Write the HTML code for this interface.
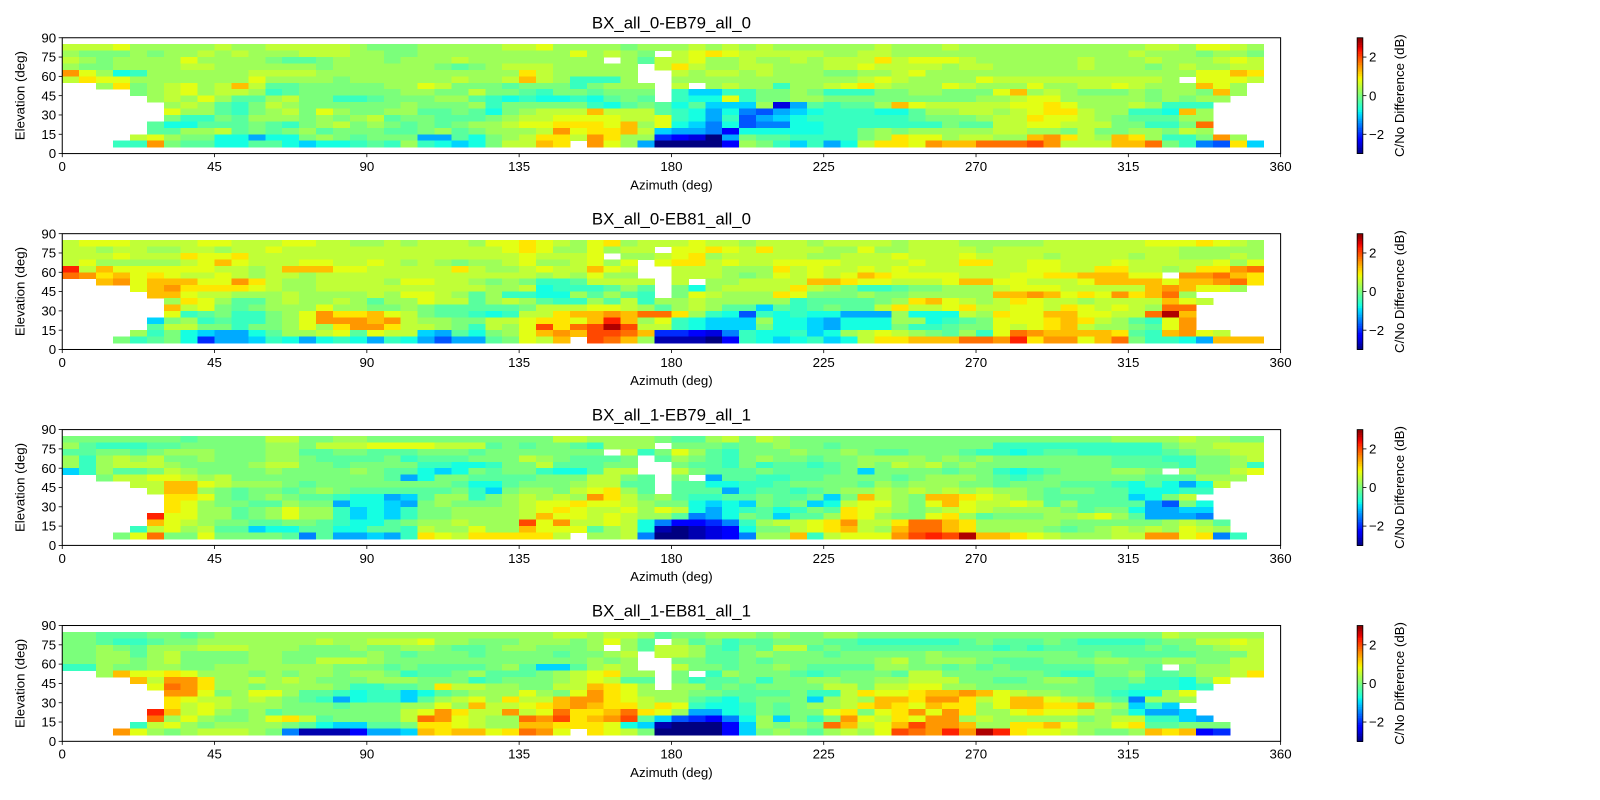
<!DOCTYPE html>
<html><head><meta charset="utf-8"><style>
html,body{margin:0;padding:0;background:#fff;}
svg{display:block;font-family:"Liberation Sans","DejaVu Sans",sans-serif;}
</style></head><body>
<svg id="fig" width="1600" height="800" viewBox="0 0 1568 784" preserveAspectRatio="none" xmlns="http://www.w3.org/2000/svg"></svg>
<script>
// ---- data: per panel, 16 rows (elevation bins 80-85 down to 5-10), 71 azimuth bins (0..355, step 5)
// code letter: 'm' = 0 dB, each letter step = 0.25 dB ('a' = -3, 'y' = +3), '.' = no data
const titles = ["BX_all_0-EB79_all_0","BX_all_0-EB81_all_0","BX_all_1-EB79_all_1","BX_all_1-EB81_all_1"];
const xTicks = [0,45,90,135,180,225,270,315,360];
const yTicks = [0,15,30,45,60,75,90];
const cbTicks = [2,0,-2];
const cbTickLabels = ["2","0","\u22122"];
const elevBins = [80,75,70,65,60,55,50,45,40,35,30,25,20,15,10,5];

const panel1 = [
"ooopn"+"nnnno"+"nnooo"+"oonmm"+"mnnnn"+"noopn"+"nnnmn"+"nnono"+"nonnn"+"nnnon"+"nnonn"+"nnnnn"+"nnnno"+"onppo"+"n",
"nmmmn"+"mnnon"+"onnno"+"oonnm"+"mnnnn"+"nnnnn"+"pnonm"+".opqp"+"ooooo"+"nnoon"+"nnnnn"+"nnnnn"+"nnnon"+"nnmnn"+"m",
"onmnn"+"nnpnn"+"nnmll"+"mnnnm"+"nnnon"+"nnnnn"+"nn.nl"+"oopnn"+"onnon"+"oooqo"+"pppon"+"nnnnn"+"onnno"+"nnnop"+"o",
"nmmnn"+"nnoon"+"nnnnn"+"mnnnn"+"nnmlm"+"nooon"+"nnnn."+"oqonn"+"oonnn"+"oopoo"+"oonoo"+"nnnnn"+"onnnm"+"nonno"+"o",
"spnjk"+"nnnnn"+"noooo"+"nnnnn"+"nnnnn"+"nnqon"+"nnnn."+".onoo"+"nonnn"+"mmnno"+"pnnnn"+"nnnnn"+"nnnnn"+"nnppr"+"q",
"oqppn"+"nnnnn"+"npnnn"+"nmnnn"+"nnnon"+"noron"+"kkkn."+".nnnn"+"nnnnn"+"nnopo"+"nnnnp"+"ooooo"+"ooooo"+"n.ppp"+"o",
"..nqm"+"nopno"+"rollm"+"mmmmn"+"npomm"+"mlmmm"+"kmnnn"+".o.no"+"nnknn"+"opqon"+"nnpon"+"nnpnn"+"oopon"+"nnrpn"+".",
"....m"+"nopno"+"onklm"+"mmmmm"+"nnmmo"+"mmlkm"+"mlmmm"+".kiik"+"kmmnm"+"kkkmm"+"nnmmm"+"prnon"+"mmmnm"+"nnmrn"+".",
"....."+"nonpn"+"llnom"+"mkklm"+"mmnnl"+"kjkjj"+"kjlml"+".kjjp"+"kmmnn"+"mmmmm"+"mmmmn"+"noppn"+"nnnnm"+"nmnn."+".",
"......nonl"+"kmonm"+"mmmmm"+"nmmmn"+"kmmmm"+"mkjlm"+"ljlii"+"inchl"+"kllnr"+"poooo"+"oppqp"+"nnnon"+"kkk.."+".",
"......pnnl"+"kmnom"+"pnmmn"+"nllml"+"jmnoo"+"orooo"+"lkjhj"+"gfhij"+"kkkjj"+"lnnoo"+"nopqq"+"onnkk"+"jrn.."+".",
"......mkkm"+"lnnnm"+"nmnol"+"mmlll"+"mnoop"+"pppoo"+"pkjhk"+"fhijk"+"kkkkk"+"lmmmn"+"ooqpp"+"onmll"+"lnn.."+".",
"....."+"ljjll"+"lmlkm"+"nomnm"+"lmlmn"+"noppq"+"qqprn"+"pjigj"+"fggjj"+"kkkkk"+"kkmll"+"ooppo"+"oommk"+"kmt.."+".",
"....."+"llnno"+"lmlmn"+"lmmml"+"lmnlm"+"nnnos"+"pqqro"+"ihhgd"+"jjjjj"+"kkmnm"+"nnnnn"+"oonnm"+"ommnn"+"mon.."+".",
"....o"+"pnmmj"+"jhjjm"+"nmlmm"+"mhhlj"+"mnoqq"+"osqnn"+"edcah"+"mllkk"+"kkmnq"+"ppnoo"+"nnrsq"+"onrqn"+"kkmsn"+".",
"...kk"+"smllj"+"jllji"+"jjklk"+"nkjij"+"moorq"+".spnh"+"aaaad"+"nmkik"+"hjoqq"+"psrrt"+"ttuso"+"oorrt"+"mkgfq"+"i"
];
const panel2 = [
"opppo"+"ooopp"+"ooopp"+"oonno"+"nooon"+"ppqpo"+"npqno"+"oopoo"+"nooon"+"oooon"+"ooonn"+"nnnoo"+"oooop"+"ppqpo"+"n",
"oonoo"+"nnoon"+"oopoo"+"ooooo"+"ooooo"+"opqpn"+"npnoo"+".ppqp"+"oqooo"+"nnpnn"+"oooon"+"ooooo"+"ooooo"+"onnnn"+"n",
"ooopo"+"ooqpp"+"qoooo"+"ooooo"+"ooooo"+"oopoo"+"op.nn"+"opqno"+"oooon"+"nooop"+"ooopo"+"ooono"+"ooono"+"onnno"+"n",
"opnnn"+"nnopr"+"pooop"+"poopo"+"nonmn"+"nopnn"+"opnp."+"pqqop"+"ooppp"+"poooo"+"pooqq"+"ooppo"+"oopoo"+"ooopn"+"p",
"vorpp"+"ppppo"+"onorr"+"rppoo"+"oooqo"+"nnopo"+"orpo."+".ooon"+"nnqop"+"oopop"+"ooooo"+"ooppo"+"oqqoo"+"noqqs"+"t",
"tsqrp"+"qpoop"+"onoon"+"ooooo"+"ooooo"+"ooono"+"npnn."+".ooon"+"mnpop"+"oprqp"+"pppoo"+"oppqq"+"rrrpp"+".sstr"+"q",
"..rsp"+"rrrpp"+"sqonn"+"oooon"+"ppoon"+"mnmkk"+"loooo"+".o.nn"+"oooor"+"rqppo"+"ooprr"+"ppooo"+"prrrr"+"prrst"+"q",
"....p"+"rsqqq"+"qponn"+"ooooo"+"ooooo"+"nnojk"+"kklnl"+".mjno"+"oooqo"+"nmkkl"+"mmnnn"+"opppo"+"oooor"+"srppn"+".",
"....."+"rrpoo"+"nnnon"+"nnnon"+"pponl"+"nkkjj"+"nlnlk"+".mpon"+"nnqpm"+"mmnmm"+"nnnnn"+"rrsrp"+"qpsqr"+"tn..."+".",
"....."+".nqpn"+"llnon"+"nonln"+"npool"+"nonlk"+"knlok"+"nnonn"+"nnnkl"+"lllmn"+"qrpon"+"oqpoo"+"noooo"+"rpo.."+".",
"....."+".ropm"+"lmnnn"+"pnnmm"+"nmlll"+"llmoo"+"oppon"+"lnonl"+"lilkl"+"mlloq"+"oopqo"+"oppoq"+"popon"+"tt..."+".",
"....."+".pklm"+"kkmnp"+"sqqrp"+"omllk"+"jkooq"+"rrsrt"+"tqnkj"+"fkjkj"+"jhhhn"+"jjjon"+"qpprr"+"ppoot"+"xr..."+".",
"....."+"imnkl"+"kkmnp"+"sssrs"+"onnmm"+"oopqq"+"prvrn"+"pkjii"+"injji"+"hjjjn"+"njklm"+"pppqr"+"qonlk"+"ps..."+".",
"....."+"loomm"+"kmmnp"+"nqssq"+"oonmk"+"onpuq"+"tuxuo"+"okjii"+"imjji"+"hjjjm"+"kklmm"+"popqr"+"onnml"+"ps..."+".",
"....n"+"kmjih"+"hjlnn"+"oplpo"+"oihlj"+"mnprs"+"ruutr"+"eedcg"+"kjjki"+"jnopo"+"nmlnk"+"ptsrr"+"rrqlk"+"rspo."+".",
"...mk"+"lmjeh"+"hikjh"+"jkjhk"+"jhfhh"+"lmpor"+".utrn"+"bbbad"+"kjijk"+"ijoqq"+"rrrtt"+"svqss"+"prtmk"+"kjhrr"+"r"
];
const panel3 = [
"mmmmm"+"mmlmm"+"mmoom"+"mnnmm"+"mmmmm"+"mmmmo"+"onnnn"+"mllno"+"monmm"+"mmmmm"+"mmmmm"+"mmmmm"+"mmnnn"+"nonnm"+"m",
"nlkkk"+"llmmm"+"mmnnm"+"ooopp"+"ppooo"+"lmlmm"+"lknnn"+".mmml"+"mmnmm"+"lmmmm"+"mmmmm"+"kkkkk"+"kkkkk"+"mnnoo"+"o",
"llmml"+"mnnnm"+"mmnnl"+"lmmll"+"lmmml"+"mmmmm"+"mm.ok"+"mpnlk"+"mmmnm"+"mnmll"+"mmmlk"+"kjkll"+"kkkkk"+"lmnno"+"o",
"nknon"+"ommnm"+"mmnnm"+"llllm"+"klllm"+"mmonm"+"lllm."+"lnmlk"+"mnmml"+"mmnnn"+"nmnmn"+"mmmmm"+"mmlll"+"kkmmn"+"o",
"nknoo"+"onmmm"+"mnoom"+"mlmmm"+"mkkjj"+"kmmol"+"llmm."+".mllk"+"mkllk"+"lmnmo"+"nomnm"+"mmmmm"+"mmlll"+"lkmmn"+"k",
"iknll"+"monmm"+"mmnmm"+"mmnml"+"ljijm"+"lmmkj"+"jloo."+".omll"+"lmlll"+"lmimm"+"mmlmm"+"kjklm"+"mmnnm"+".nmmo"+"p",
"..moo"+"ppono"+"mmmmm"+"mmmml"+"hjmml"+"lllmm"+"mooml"+".m.hl"+"lkkll"+"mmmml"+"mnnnm"+"lklmm"+"mmmml"+"llnnn"+".",
"....o"+"orrpo"+"nnnml"+"mmmmm"+"mmmlj"+"jlmmm"+"nooll"+".lljj"+"kklmm"+"mmlnm"+"nnnmm"+"lmmml"+"llkjl"+"jhjo."+".",
"....."+"orrnm"+"lmmlm"+"nmlll"+"lllmk"+"imnnm"+"opqnl"+".lllh"+"kllkl"+"mnnon"+"onono"+"nnmlm"+"mlljj"+"jkk.."+".",
"....."+".qqpm"+"lmnml"+"lkjjh"+"ilnnk"+"mnono"+"nsqom"+"nlkkl"+"lmllm"+"imron"+"mrrqp"+"onmll"+"lllij"+"mo..."+".",
"....."+".qpnm"+"mllnm"+"mhjji"+"hmnmm"+"mnopp"+"qppon"+"mmjij"+"imlmi"+"joppn"+"mprpo"+"opoln"+"llllh"+"fmj.."+".",
"....."+".qpnn"+"lmnpn"+"nkiji"+"kmmnn"+"nnopq"+"poopn"+"pojhj"+"kljkm"+"lqpon"+"mnopo"+"nnnnm"+"lmmjh"+"hii.."+".",
"....."+"vppnn"+"lmnpn"+"nkiji"+"kmmnn"+"nnorp"+"popon"+"nlghj"+"mlill"+"nqpnm"+"mpqnl"+"mmmnn"+"opnlh"+"hhg.."+".",
"....."+"rponm"+"mllmm"+"lkjjl"+"mnnon"+"nnups"+"oopoj"+"gddeg"+"knoop"+"qsooq"+"ttrqn"+"nnnnm"+"mmmmm"+"nonl."+".",
"....k"+"opnol"+"lijjl"+"ljjll"+"konnp"+"nnrpp"+"plnoj"+"babcd"+"jmmop"+"qronr"+"ttrqn"+"nnnml"+"mnono"+"npon."+".",
"...mp"+"tmmpm"+"mmmlg"+"lhhih"+"kqpoq"+"qqqqo"+".nnog"+"aabcd"+"gnnrk"+"oppps"+"uvuxr"+"rqpon"+"nnoos"+"spqgk"+"."
];
const panel4 = [
"mmlll"+"mmlmn"+"nnnnn"+"nnnnn"+"nnnnn"+"nnnno"+"onoon"+"lmmnn"+"nmnmm"+"nnmmm"+"mmmmm"+"mmmmm"+"mmmmm"+"onnnn"+"n",
"mmlkk"+"lmmnn"+"nnnnn"+"onnoo"+"opnnm"+"mmnnn"+"mnpnl"+".nlmk"+"llmmm"+"llkkk"+"kkklm"+"lllml"+"kkkkl"+"mmoop"+"o",
"mmnml"+"nnnoo"+"onnnm"+"mmnmm"+"nnmll"+"mnnmm"+"mn.nl"+"oonlk"+"mlool"+"mllll"+"lllll"+"klkll"+"llllm"+"lmmno"+"o",
"mmnnl"+"nommm"+"mnnmm"+"mmmnm"+"lmmml"+"mmmml"+"mmno."+"oonll"+"mnmmm"+"lmmmm"+"mnmmm"+"mmmmm"+"lmlll"+"llmmm"+"o",
"mmnnm"+"nommm"+"mnnmm"+"ooonm"+"mmmmm"+"mmmmm"+"mnmn."+".mmll"+"mlmmm"+"mmmno"+"mnnnm"+"lllmm"+"mnnmm"+"nnmmo"+"o",
"kknmm"+"nnmmn"+"nnnnn"+"nmmml"+"mllll"+"mnlii"+"lnon."+".omml"+"mmnml"+"lllnn"+"mmlml"+"mllll"+"lmmml"+".mnno"+"o",
"..nrp"+"pqpnn"+"nmnmn"+"nmnnm"+"kllmn"+"lllmn"+"opqnn"+".m.kn"+"mmmlk"+"lmmml"+"oommm"+"mmmlk"+"kmmnl"+"lmnno"+"q",
"....r"+"ossqn"+"nonon"+"mmmnn"+"nmmmk"+"lmmmn"+"opoll"+".mkll"+"mkmmn"+"nmmnn"+"ooomm"+"llmnn"+"mllmk"+"kjmp."+".",
"....."+"ptsqn"+"nmnnn"+"nmkkl"+"lmqoo"+"nnmmo"+"orqpn"+".nnlm"+"lmmmm"+"oomoo"+"ppnnm"+"mmmmm"+"mllkk"+"kjk.."+".",
"....."+".sspm"+"nppnl"+"lkjkk"+"ijlmn"+"nnpnm"+"psqpn"+"nnmml"+"lllmk"+"koqpp"+"qrrsr"+"ponnm"+"mlkjj"+"np..."+".",
"....."+".qpoo"+"nonml"+"khjkk"+"ilnop"+"nqoor"+"ssqpo"+"nnlkj"+"lmmmi"+"nonrr"+"qssqo"+"prrpo"+"nmlgn"+"nn..."+".",
"....."+".qopo"+"nnnmm"+"mlmmm"+"nnpnr"+"oopqr"+"srqqo"+"qpkjj"+"kmlmn"+"noqrq"+"prqqn"+"prrqq"+"ronik"+"i...."+".",
"....."+"vropn"+"mnlmm"+"mmmmm"+"opsqo"+"osopt"+"qqrtq"+"pnhhj"+"kmlmm"+"pqmpq"+"spsqn"+"npqpp"+"onmjh"+"hi..."+".",
"....."+"tnpnm"+"mnpqo"+"lmmmm"+"otspo"+"nntsu"+"qrsul"+"ifedg"+"jnimk"+"mspoq"+"pssno"+"nnnnn"+"mnook"+"kih.."+".",
"....k"+"opnmn"+"nnnml"+"jiill"+"mqqpo"+"nnrrq"+"qqpji"+"baaad"+"inmnm"+"tropr"+"ussrn"+"nqqrp"+"nnpql"+"lmmm."+".",
"...sp"+"nmnoo"+"onmgb"+"bbdhh"+"irqrr"+"pqtsp"+".qpom"+"aaaad"+"imnml"+"nonpu"+"tsvsx"+"vqppo"+"nmmnr"+"qrde."+"."
];
const panelData = [panel1, panel2, panel3, panel4];

// ---- layout
const NS = "http://www.w3.org/2000/svg";
const svg = document.getElementById("fig");
const X0 = 61, X1 = 1255;
const panelTops = [37, 229, 421, 613];
const PH = 113.5;
const AZ_STEP = 5, EL_STEP = 5;
const CB_X = 1330, CB_W = 5.6;

function mk(tag, attrs, parent) {
  const e = document.createElementNS(NS, tag);
  for (const k in attrs) e.setAttribute(k, attrs[k]);
  (parent || svg).appendChild(e);
  return e;
}
// matplotlib 'jet' segment table
const JR = [[0,0],[0.35,0],[0.66,1],[0.89,1],[1,0.5]];
const JG = [[0,0],[0.125,0],[0.375,1],[0.64,1],[0.91,0],[1,0]];
const JB = [[0,0.5],[0.11,1],[0.34,1],[0.65,0],[1,0]];
function seg(tab, t) {
  for (let i = 1; i < tab.length; i++) {
    if (t <= tab[i][0]) {
      const a = tab[i-1], b = tab[i];
      return a[1] + (b[1] - a[1]) * (t - a[0]) / (b[0] - a[0]);
    }
  }
  return tab[tab.length-1][1];
}
function jet(v) {
  let t = (v + 3) / 6; t = Math.max(0, Math.min(1, t));
  const c = x => Math.round(255 * Math.max(0, Math.min(1, x)));
  return `rgb(${c(seg(JR,t))},${c(seg(JG,t))},${c(seg(JB,t))})`;
}
function decode(ch) { return (ch.charCodeAt(0) - 109) * 0.25; }

panelData.forEach((rows, p) => {
  const T = panelTops[p];
  const xS = az => X0 + (az / 360) * (X1 - X0);
  const yS = el => T + PH - (el / 90) * PH;
  const g = mk("g", {});
  
  

  const cells = mk("g", {"shape-rendering": "crispEdges"}, g);
  
  
  rows.forEach((rowStr, r) => {
    const row = (rowStr + ".".repeat(71)).slice(0, 71);
    const el = elevBins[r];
    for (let i = 0; i < 71; i++) {
      const ch = row[i];
      if (ch === ".") continue;
      const az = i * AZ_STEP;
      const x = xS(az), w = xS(az + AZ_STEP) - x;
      const y = yS(el + EL_STEP), h = yS(el) - y;
      const rc = mk("rect", {x: x.toFixed(2), y: y.toFixed(2), width: (w + 0.4).toFixed(2), height: (h + 0.4).toFixed(2), fill: jet(decode(ch))}, cells);
      
      
    }
  });

  const frame = mk("rect", {x: X0, y: T, width: X1 - X0, height: PH, fill: "none", stroke: "#000", "stroke-width": 1}, g);
  
  

  const title = mk("text", {x: (X0 + X1) / 2, y: T - 9, "font-size": 16.5, "text-anchor": "middle", fill: "#000"}, g);
  title.textContent = titles[p];
  
  

  xTicks.forEach(v => {
    const x = xS(v);
    const tk = mk("line", {x1: x, x2: x, y1: T + PH, y2: T + PH + 3.5, stroke: "#000", "stroke-width": 0.8}, g);
    
    
    const lb = mk("text", {x: x, y: T + PH + 17, "font-size": 13, "text-anchor": "middle", fill: "#000"}, g);
    lb.textContent = v;
    
    
  });
  yTicks.forEach(v => {
    const y = yS(v);
    const tk = mk("line", {x1: X0 - 3.5, x2: X0, y1: y, y2: y, stroke: "#000", "stroke-width": 0.8}, g);
    
    
    const lb = mk("text", {x: X0 - 6, y: y + 4.5, "font-size": 13, "text-anchor": "end", fill: "#000"}, g);
    lb.textContent = v;
    
    
  });
  const xl = mk("text", {x: (X0 + X1) / 2, y: T + PH + 35, "font-size": 13, "text-anchor": "middle", fill: "#000"}, g);
  xl.textContent = "Azimuth (deg)";
  
  
  const ym = T + PH / 2;
  const yl = mk("text", {x: 24, y: ym, "font-size": 13, "text-anchor": "middle", fill: "#000", transform: `rotate(-90 24 ${ym})`}, g);
  yl.textContent = "Elevation (deg)";
  
  

  // colorbar
  const cb = mk("g", {}, g);
  
  
  const N = 64;
  for (let k = 0; k < N; k++) {
    const v = 3 - (k + 0.5) * 6 / N;
    const y = T + k * PH / N;
    const s = mk("rect", {x: CB_X, y: y.toFixed(2), width: CB_W, height: (PH / N + 0.5).toFixed(2), fill: jet(v), "shape-rendering": "crispEdges"}, cb);
    
    
  }
  const cbf = mk("rect", {x: CB_X, y: T, width: CB_W, height: PH, fill: "none", stroke: "#000", "stroke-width": 0.8}, cb);
  
  
  cbTicks.forEach((v, i) => {
    const y = T + PH / 2 - (v / 3) * (PH / 2);
    const tk = mk("line", {x1: CB_X + CB_W, x2: CB_X + CB_W + 3.5, y1: y, y2: y, stroke: "#000", "stroke-width": 0.8}, cb);
    
    
    const lb = mk("text", {x: CB_X + CB_W + 6, y: y + 4.5, "font-size": 13, fill: "#000"}, cb);
    lb.textContent = cbTickLabels[i];
    
    
  });
  const cl = mk("text", {x: 1376, y: ym, "font-size": 13, "text-anchor": "middle", fill: "#000", transform: `rotate(-90 1376 ${ym})`}, cb);
  cl.textContent = "C/No Difference (dB)";
  
  
});
</script>
</body></html>
